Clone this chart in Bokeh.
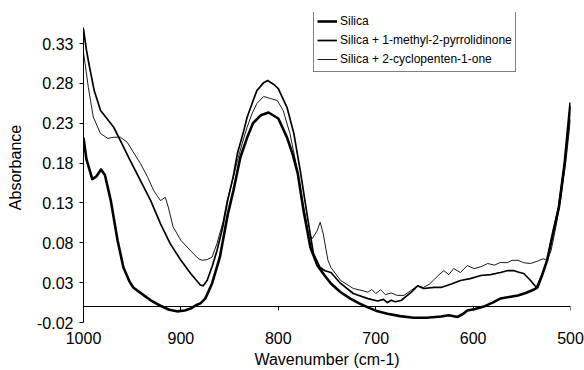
from bokeh.plotting import figure
from bokeh.models import (Range1d, FixedTicker, LinearAxis, Legend, LegendItem,
                          PrintfTickFormatter, CustomJSTickFormatter)
from bokeh.embed import file_html
from bokeh.resources import INLINE

# ---- data ----
wn_silica = [1000, 997, 991, 987, 982, 978, 972, 965, 959, 953, 949, 938, 930, 921, 912, 904, 896, 890,
             884, 880, 875, 868, 860, 852, 846, 839, 832, 826, 818, 810, 800, 791, 785, 780, 774, 767,
             760, 753, 746, 736, 726, 717, 708, 698, 688, 675, 661, 648, 633, 625, 616, 610, 606, 598,
             589, 580, 572, 563, 554, 546, 538, 534, 529, 524, 518, 512, 506, 500]
abs_silica = [0.212, 0.185, 0.160, 0.163, 0.172, 0.165, 0.133, 0.083, 0.049, 0.032, 0.024, 0.014, 0.007,
              0.001, -0.004, -0.006, -0.005, -0.0025, 0.002, 0.004, 0.010, 0.029, 0.062, 0.115, 0.146,
              0.187, 0.212, 0.230, 0.240, 0.2435, 0.236, 0.212, 0.190, 0.167, 0.120, 0.074, 0.052,
              0.040, 0.029, 0.018, 0.010, 0.004, -0.001, -0.006, -0.009, -0.012, -0.014, -0.014,
              -0.0125, -0.011, -0.013, -0.009, -0.005, -0.003, 0.000, 0.005, 0.010, 0.012, 0.014,
              0.017, 0.021, 0.024, 0.040, 0.058, 0.092, 0.124, 0.180, 0.256]

wn_nmp = [1000, 997, 994.5, 989, 982.5, 976, 969, 962, 952, 941.5, 931, 921, 911, 900, 890, 880, 877,
          873, 868, 863, 857, 852, 846, 842, 836, 832, 826, 822, 815, 811, 805, 800, 791, 784, 777,
          770, 764, 757, 752, 746, 736, 723, 708, 698, 692, 688, 684, 680, 674, 664, 657, 651, 640,
          633, 623, 613, 603, 592, 582, 572, 565, 558, 553, 548, 541, 535, 529, 524, 518, 512, 506, 500]
abs_nmp = [0.348, 0.322, 0.305, 0.271, 0.246, 0.236, 0.225, 0.208, 0.183, 0.158, 0.133, 0.104, 0.079,
           0.058, 0.0415, 0.027, 0.026, 0.033, 0.050, 0.070, 0.100, 0.133, 0.165, 0.192, 0.218,
           0.2376, 0.258, 0.271, 0.281, 0.2836, 0.279, 0.2736, 0.2497, 0.217, 0.167, 0.112, 0.0666,
           0.049, 0.045, 0.0427, 0.029, 0.0164, 0.010, 0.007, 0.009, 0.005, 0.008, 0.006, 0.0076,
           0.0176, 0.026, 0.0227, 0.024, 0.024, 0.028, 0.0327, 0.035, 0.039, 0.040, 0.0427, 0.045,
           0.045, 0.043, 0.0415, 0.0327, 0.024, 0.040, 0.058, 0.092, 0.126, 0.180, 0.252]

wn_cp = [1000, 995, 990, 982.5, 975, 969, 962, 955, 949, 941.5, 934, 928, 921, 916, 913, 908, 900, 890,
         882, 878, 873, 868, 863, 857, 852.5, 847, 842, 837, 832, 827, 822, 815, 808, 801, 795, 788,
         781, 774, 769, 765, 760, 757, 754, 749, 746, 736, 723, 714, 708, 704, 700, 695, 690, 684,
         678, 671, 664, 657, 651, 645, 641, 635, 630, 625, 620, 613, 606, 599, 592, 585, 578, 572,
         565, 560, 554, 548, 541, 534, 528, 524, 520, 515, 510, 505, 500]
abs_cp = [0.319, 0.275, 0.238, 0.217, 0.211, 0.2125, 0.2125, 0.206, 0.194, 0.1795, 0.162, 0.1456, 0.133,
          0.137, 0.125, 0.100, 0.083, 0.070, 0.060, 0.058, 0.059, 0.062, 0.079, 0.105, 0.133, 0.158,
          0.183, 0.205, 0.225, 0.242, 0.2548, 0.2636, 0.261, 0.2586, 0.246, 0.217, 0.1745, 0.124,
          0.0917, 0.0854, 0.0954, 0.1058, 0.092, 0.058, 0.049, 0.0327, 0.0227, 0.020, 0.018, 0.0214,
          0.0164, 0.021, 0.015, 0.017, 0.014, 0.014, 0.020, 0.026, 0.024, 0.028, 0.0327, 0.040, 0.045,
          0.040, 0.0477, 0.0427, 0.0515, 0.0477, 0.050, 0.054, 0.052, 0.0553, 0.055, 0.058, 0.058,
          0.055, 0.054, 0.057, 0.060, 0.058, 0.070, 0.100, 0.135, 0.180, 0.235]

y_ticks = [-0.02, 0.03, 0.08, 0.13, 0.18, 0.23, 0.28, 0.33]
x_ticks = [1000, 900, 800, 700, 600, 500]
labels = ["Silica", "Silica + 1-methyl-2-pyrrolidinone", "Silica + 2-cyclopenten-1-one"]
y_min, y_axis_max, y_view_max = -0.02, 0.35, 0.369

FONT = "Liberation Sans"

p = figure(width=584, height=370, output_backend="svg", toolbar_location=None,
           x_range=Range1d(1000, 500), y_range=Range1d(y_min, y_view_max),
           min_border_left=83, min_border_right=14, min_border_top=12, min_border_bottom=48)
p.outline_line_color = None
p.grid.visible = False
p.background_fill_color = "white"

# y axis
ya = p.yaxis[0]
ya.ticker = FixedTicker(ticks=y_ticks)
ya.formatter = PrintfTickFormatter(format="%.2f")
ya.bounds = (y_min, y_axis_max)
ya.axis_label = "Absorbance"
ya.major_tick_out = 4
ya.major_tick_in = 0
ya.minor_tick_line_color = None
ya.major_label_standoff = 6
ya.axis_label_standoff = 10
ya.axis_line_color = "black"
ya.major_tick_line_color = "black"

# x axis (labels only at the bottom)
xa = p.xaxis[0]
xa.ticker = FixedTicker(ticks=x_ticks)
xa.axis_label = "Wavenumber (cm-1)"
xa.axis_line_color = None
xa.major_tick_line_color = None
xa.minor_tick_line_color = None
xa.major_tick_out = 0
xa.major_tick_in = 0
xa.major_label_standoff = 9
xa.axis_label_standoff = 4

for ax in (xa, ya):
    ax.major_label_text_font = FONT
    ax.major_label_text_font_size = "16px"
    ax.major_label_text_color = "black"
    ax.axis_label_text_font = FONT
    ax.axis_label_text_font_size = "16px"
    ax.axis_label_text_font_style = "normal"
    ax.axis_label_text_color = "black"

# zero line axis crossing at y = 0
za = LinearAxis(fixed_location=0, ticker=FixedTicker(ticks=x_ticks),
                formatter=CustomJSTickFormatter(code="return ''"))
za.major_label_standoff = 0
za.major_tick_in = 4
za.major_tick_out = 0
za.minor_tick_line_color = None
za.axis_line_color = "black"
za.major_tick_line_color = "black"
p.add_layout(za, "above")

r1 = p.line(wn_silica, abs_silica, line_color="black", line_width=2.6, line_join="round")
r2 = p.line(wn_nmp, abs_nmp, line_color="black", line_width=1.7, line_join="round")
r3 = p.line(wn_cp, abs_cp, line_color="black", line_width=0.9, line_join="round")

legend = Legend(items=[LegendItem(label=labels[0], renderers=[r1]),
                       LegendItem(label=labels[1], renderers=[r2]),
                       LegendItem(label=labels[2], renderers=[r3])],
                location=(230, 250))
legend.label_text_font = FONT
legend.label_text_font_size = "12px"
legend.label_text_color = "black"
legend.border_line_color = "black"
legend.border_line_width = 1
legend.background_fill_color = "white"
legend.background_fill_alpha = 1
legend.padding = 3
legend.spacing = 1
legend.margin = 0
legend.label_height = 18
legend.glyph_height = 18
legend.glyph_width = 20
legend.label_standoff = 3
p.add_layout(legend, "center")

open("out.html", "w").write(file_html(p, INLINE))
